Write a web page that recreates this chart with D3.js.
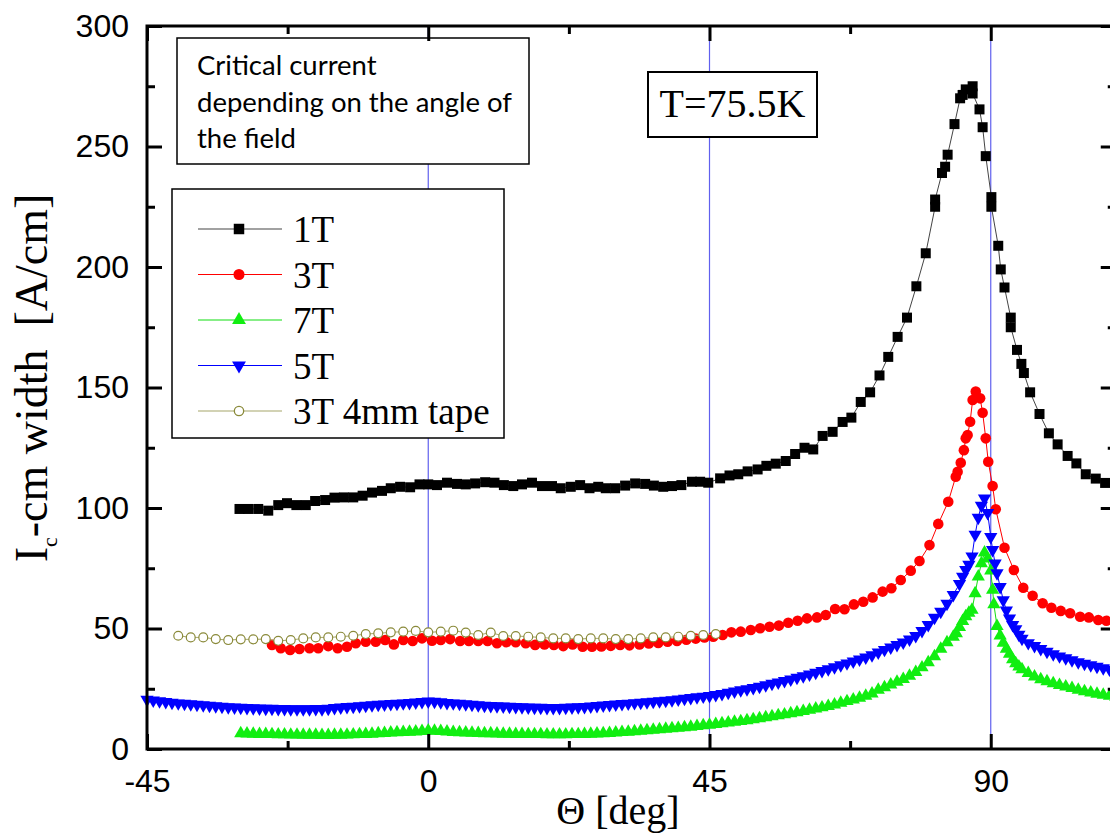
<!DOCTYPE html>
<html><head><meta charset="utf-8">
<script src="https://cdn.jsdelivr.net/npm/d3@7"></script>
<style>body{margin:0;background:#fff;overflow:hidden} svg{display:block}</style>
</head><body>
<svg id="chart" width="1110" height="834"></svg>
<script>
// ---- data ----
const ang1T = [-30.2,-28.8,-27.2,-25.6,-24.0,-22.6,-21.1,-19.6,-18.1,-16.5,
  -15.0,-13.5,-12.0,-10.5,-9.0,-7.4,-6.0,-4.5,-2.9,-1.4,
  0.0,1.4,3.0,4.6,6.0,7.5,9.1,10.6,12.1,13.6,
  15.0,16.6,18.2,19.8,21.2,22.8,24.3,25.8,27.2,28.4,
  29.9,31.5,33.1,34.7,36.1,37.6,39.0,40.5,42.2,43.5,
  44.8,46.7,48.2,49.6,51.1,52.7,54.1,55.6,57.2,58.7,
  60.2,61.6,63.1,64.7,66.3,67.7,69.2,70.7,72.2,73.6,
  75.1,76.6,78.1,79.6,81.1,81.1,82.2,82.7,83.1,84.2,
  85.1,85.5,86.0,87.1,87.1,88.2,88.7,89.2,90.1,90.1,
  91.2,91.6,92.2,93.2,93.2,94.2,94.9,95.3,96.3,97.8,
  99.3,100.7,102.3,103.7,105.2,106.8,108.3];
const ic1T = [99.6,99.6,99.6,98.9,101.2,102.0,101.2,101.2,102.9,103.3,
  104.3,104.4,104.4,105.1,106.4,107.1,108.2,108.8,108.6,109.8,
  109.8,109.5,110.5,110.0,109.8,110.2,110.7,110.5,109.5,109.1,
  109.8,110.5,109.1,109.1,108.2,108.8,109.5,108.2,108.8,108.2,
  108.2,109.3,110.2,110.0,109.3,108.8,109.1,109.5,110.9,110.9,
  110.5,112.3,113.5,114.0,115.2,116.0,117.5,118.4,119.5,122.4,
  125.0,124.3,129.9,131.6,135.7,137.5,144.0,148.0,155.0,162.7,
  171.0,179.0,192.0,205.7,225.0,228.0,239.0,241.6,246.6,259.3,
  270.0,271.4,273.7,275.0,272.0,265.4,258.0,246.0,229.0,225.0,
  208.8,199.0,191.5,179.0,175.0,165.6,159.8,156.0,148.0,139.0,
  131.0,126.4,121.6,118.5,114.0,112.2,110.4];

const ang3T = [-25.0,-23.6,-22.1,-20.6,-19.0,-17.6,-16.0,-14.5,-13.0,-11.6,
  -10.0,-8.4,-6.9,-5.5,-4.0,-2.5,-1.0,0.6,2.0,3.5,
  5.1,6.5,8.0,9.5,11.0,12.5,14.0,15.6,17.1,18.6,
  20.1,21.6,23.1,24.7,26.2,27.7,29.2,30.7,32.2,33.8,
  35.3,36.8,38.3,39.8,41.3,42.8,44.2,45.6,47.1,48.5,
  50.0,51.6,53.1,54.6,56.1,57.6,59.1,60.6,62.2,63.6,
  65.1,66.6,68.1,69.6,71.1,72.7,74.1,75.6,77.2,78.6,
  80.2,81.6,83.2,84.4,84.7,85.2,85.7,86.0,86.3,86.7,
  87.1,87.6,88.3,88.7,89.2,89.6,90.3,90.8,92.2,93.7,
  95.2,96.7,98.3,99.7,101.2,102.7,104.3,105.7,107.2,108.5];
const ic3T = [43.2,41.8,41.1,41.5,41.8,41.8,42.7,41.8,42.4,43.9,
  44.5,44.5,45.2,43.4,45.2,44.8,45.9,44.9,45.2,45.6,
  44.8,44.8,44.8,44.8,43.9,44.3,44.3,43.9,43.2,43.4,
  43.2,42.7,43.4,42.4,42.4,42.5,42.8,43.2,43.0,43.4,
  43.8,44.0,44.5,44.8,45.3,45.8,46.3,46.6,47.3,48.4,
  48.7,49.4,50.1,50.7,51.2,52.4,53.2,54.2,54.6,55.6,
  58.1,58.0,60.0,61.1,62.9,65.3,66.7,70.1,74.0,78.0,
  84.6,93.4,102.6,113.0,115.0,118.8,124.0,128.9,130.3,135.8,
  144.8,148.3,145.5,139.5,128.9,119.2,109.1,99.5,83.5,74.3,
  66.9,63.6,60.5,58.6,57.3,56.3,54.9,54.6,53.5,53.2];

const ang7T = [-30,-29,-28,-27,-26,-25,-24,-23,-22,-21,
  -20,-19,-18,-17,-16,-15,-14,-13,-12,-11,
  -10,-9,-8,-7,-6,-5,-4,-3,-2,-1,
  0,1,2,3,4,5,6,7,8,9,
  10,11,12,13,14,15,16,17,18,19,
  20,21,22,23,24,25,26,27,28,29,
  30,31,32,33,34,35,36,37,38,39,
  40,41,42,43,44,45,46,47,48,49,
  50,51,52,53,54,55,56,57,58,59,
  60,61,62,63,64,65,66,67,68,69,
  70,71,72,73,74,75,76,77,78,79,
  80,81,82,83,84,84.5,85,85.5,86,86.5,
  87,87.5,88,88.5,89,89.5,90,90.3,90.5,91,
  91.5,92,92.5,93,93.5,94,94.5,95,96,97,
  98,99,100,101,102,103,104,105,106,107,
  108,109,110];
const ic7T = [6.5,6.4,6.3,6.2,6.2,6.1,6.0,6.0,5.9,5.9,
  5.8,5.8,5.8,5.7,5.7,5.8,5.8,5.9,6.0,6.1,
  6.2,6.3,6.5,6.6,6.8,6.9,7.0,7.1,7.2,7.4,
  7.6,7.5,7.4,7.2,7.0,6.9,6.8,6.7,6.6,6.5,
  6.5,6.4,6.3,6.3,6.2,6.2,6.1,6.1,6.1,6.0,
  6.0,6.0,6.0,6.1,6.1,6.2,6.3,6.4,6.5,6.6,
  6.8,7.0,7.1,7.3,7.5,7.7,7.9,8.1,8.3,8.5,
  8.7,9.0,9.2,9.5,9.8,10.0,10.3,10.6,10.9,11.2,
  11.5,11.9,12.3,12.7,13.1,13.5,13.9,14.3,14.8,15.2,
  15.7,16.2,16.7,17.2,17.8,18.4,19.1,19.8,20.5,21.2,
  22.0,23.0,24.5,25.6,26.7,27.8,29.0,30.3,31.9,33.8,
  35.9,38.4,41.5,44.2,46.5,48.0,50.5,53.0,55.0,56.5,
  57.7,64.6,71.5,77.0,81.5,79.0,74.0,66.0,60.0,51.0,
  47.0,44.0,41.5,39.5,37.2,35.5,34.2,33.0,31.5,30.0,
  28.9,28.0,27.2,26.5,25.9,25.2,24.5,23.9,23.4,22.9,
  22.4,22.0,21.6];

const ang5T = [-45,-44,-43,-42,-41,-40,-39,-38,-37,-36,
  -35,-34,-33,-32,-31,-30,-29,-28,-27,-26,
  -25,-24,-23,-22,-21,-20,-19,-18,-17,-16,
  -15,-14,-13,-12,-11,-10,-9,-8,-7,-6,
  -5,-4,-3,-2,-1,0,1,2,3,4,
  5,6,7,8,9,10,11,12,13,14,
  15,16,17,18,19,20,21,22,23,24,
  25,26,27,28,29,30,31,32,33,34,
  35,36,37,38,39,40,41,42,43,44,
  45,46,47,48,49,50,51,52,53,54,
  55,56,57,58,59,60,61,62,63,64,
  65,66,67,68,69,70,71,72,73,74,
  75,76,77,78,79,80,81,82,83,84,
  85,85.5,86,86.5,87,87.5,88,88.5,89,89.5,
  90,90.3,90.7,91,91.5,92,92.5,93,93.5,94,
  94.5,95,96,97,98,99,100,101,102,103,
  104,105,106,107,108,109,110];
const ic5T = [20.5,20.2,19.9,19.6,19.3,19.0,18.8,18.6,18.4,18.2,
  18.0,17.8,17.6,17.4,17.3,17.2,17.1,17.0,16.9,16.8,
  16.8,16.7,16.7,16.6,16.6,16.6,16.6,16.7,16.6,16.8,
  17.1,17.3,17.5,17.6,17.8,18.0,18.2,18.4,18.5,18.7,
  18.8,19.0,19.2,19.4,19.6,19.8,19.7,19.5,19.2,19.0,
  18.8,18.6,18.4,18.2,18.0,17.9,17.8,17.7,17.6,17.5,
  17.4,17.3,17.2,17.2,17.1,17.1,17.1,17.2,17.3,17.4,
  17.5,17.7,17.9,18.1,18.3,18.5,18.7,18.9,19.1,19.3,
  19.5,19.7,19.9,20.1,20.3,20.6,20.9,21.2,21.5,21.8,
  22.1,22.5,22.9,23.4,23.9,24.4,24.9,25.4,25.9,26.5,
  27.1,27.7,28.3,28.9,29.6,30.3,31.0,31.7,32.4,33.2,
  34.0,34.8,35.6,36.4,37.2,38.0,39.0,40.1,41.2,42.2,
  43.2,44.3,45.5,47.0,49.0,51.5,54.5,57.0,60.3,64.0,
  68.5,71.5,74.3,76.5,80.0,89.0,96.0,101.0,104.0,98.0,
  88.0,82.6,77.0,73.0,67.3,61.8,57.5,54.2,51.5,49.8,
  47.5,45.8,44.0,42.8,41.6,40.4,39.4,38.5,37.7,36.9,
  36.1,35.4,34.8,34.2,33.6,33.1,32.6];

const angTape = [-40,-38,-36,-34,-32,-30,-28,-26,-24,-22,
  -20,-18,-16,-14,-12,-10,-8,-6,-4,-2,
  0,2,4,6,8,10,12,14,16,18,
  20,22,24,26,28,30,32,34,36,38,
  40,42,44,46];
const icTape = [47.0,46.3,46.3,45.6,45.2,45.5,45.5,45.6,44.9,45.2,
  45.9,46.3,46.3,46.6,47.0,47.7,48.0,48.4,48.7,49.0,
  48.4,48.7,49.1,48.3,47.3,48.3,46.9,46.9,46.6,46.3,
  45.9,45.9,45.6,45.9,45.9,45.6,45.6,45.9,46.3,46.3,
  46.6,47.0,47.3,47.7];

const seriesNames = ["1T","3T","7T","5T","3T 4mm tape"];
const xMajorTicks = [-45,0,45,90];
const xMinorTicks = [-22.5,22.5,67.5];
const yMajorTicks = [0,50,100,150,200,250,300];
const yMinorTicks = [25,75,125,175,225,275];
const refAngles = [0,45,90];
const noteLines = ["Critical current","depending on the angle of","the field"];
const tempLabel = "T=75.5K";

// ---- layout ----
const svg = d3.select("#chart");
const L = 147, T = 26, R = 1115.75, B = 749;
const x = d3.scaleLinear().domain([-45,110]).range([L,R]);
const y = d3.scaleLinear().domain([0,300]).range([B,T]);

const series = [
  {name:seriesNames[0], a:ang1T, v:ic1T, type:d3.symbolSquare, size:100, rot:0, fill:"#000", stroke:"none", line:"#444"},
  {name:seriesNames[1], a:ang3T, v:ic3T, type:d3.symbolCircle, size:88, rot:0, fill:"#ff0000", stroke:"none", line:"#ff0000"},
  {name:seriesNames[2], a:ang7T, v:ic7T, type:d3.symbolTriangle, size:76, rot:0, fill:"#11ee11", stroke:"none", line:"#11dd11"},
  {name:seriesNames[3], a:ang5T, v:ic5T, type:d3.symbolTriangle, size:76, rot:180, fill:"#0000ff", stroke:"none", line:"#0000ff"},
  {name:seriesNames[4], a:angTape, v:icTape, type:d3.symbolCircle, size:62, rot:0, fill:"#fff", stroke:"#8a8a3a", line:"#a6a66a"}
];

// reference vertical lines
svg.append("g").selectAll("line").data(refAngles).join("line")
  .attr("x1",d=>x(d)).attr("x2",d=>x(d)).attr("y1",T).attr("y2",B)
  .attr("stroke","#6060ee").attr("stroke-width",1.2);

// series
const lineGen = d3.line().x(d=>x(d[0])).y(d=>y(d[1]));
series.forEach(s=>{
  const pts = d3.zip(s.a, s.v);
  const g = svg.append("g");
  g.append("path").datum(pts).attr("d",lineGen).attr("fill","none")
    .attr("stroke",s.line).attr("stroke-width",1);
  const sym = d3.symbol().type(s.type).size(s.size);
  g.selectAll("path.m").data(pts).join("path").attr("class","m")
    .attr("d",sym)
    .attr("transform",d=>`translate(${x(d[0])},${y(d[1])}) rotate(${s.rot})`)
    .attr("fill",s.fill).attr("stroke",s.stroke).attr("stroke-width",s.stroke==="none"?0:1.2);
});

// note box
const nb = svg.append("g");
nb.append("rect").attr("x",177).attr("y",38).attr("width",352).attr("height",126)
  .attr("fill","#fff").attr("stroke","#000").attr("stroke-width",1.5);
nb.selectAll("text").data(noteLines).join("text")
  .attr("x",197).attr("y",(d,i)=>75+i*36.5)
  .style("font-family","Lato, 'Open Sans', sans-serif").style("font-size","27.5px").attr("fill","#000")
  .text(d=>d);

// temperature box
const tb = svg.append("g");
tb.append("rect").attr("x",648).attr("y",72).attr("width",169).attr("height",65)
  .attr("fill","#fff").attr("stroke","#000").attr("stroke-width",2);
tb.append("text").attr("x",732.5).attr("y",117).attr("text-anchor","middle")
  .style("font-family","'Liberation Serif', 'Times New Roman', serif").style("font-size","40px")
  .text(tempLabel);

// legend
const lg = svg.append("g");
lg.append("rect").attr("x",172).attr("y",189).attr("width",332).attr("height",249)
  .attr("fill","#fff").attr("stroke","#000").attr("stroke-width",1.5);
series.forEach((s,i)=>{
  const cy = 229 + i*45.5;
  lg.append("line").attr("x1",198).attr("x2",282).attr("y1",cy).attr("y2",cy)
    .attr("stroke",s.line).attr("stroke-width",1.2);
  lg.append("path").attr("d",d3.symbol().type(s.type).size(s.size*1.1)())
    .attr("transform",`translate(239,${cy}) rotate(${s.rot})`)
    .attr("fill",s.fill).attr("stroke",s.stroke).attr("stroke-width",s.stroke==="none"?0:1.3);
  lg.append("text").attr("x",293).attr("y",cy+13)
    .style("font-family","'Liberation Serif', 'Times New Roman', serif").style("font-size","37px")
    .text(s.name);
});

// axes
function styleAxis(g){
  g.select(".domain").remove();
  g.selectAll(".tick line").attr("stroke","#000").attr("stroke-width",3);
  g.selectAll(".tick text").attr("fill","#000")
    .style("font-family","'Liberation Sans', Arial, sans-serif").style("font-size","32px");
}
const plainFmt = d => String(d);
svg.append("g").attr("transform",`translate(${L},0)`)
  .call(d3.axisLeft(y).tickValues(yMajorTicks).tickSize(-15).tickPadding(18).tickFormat(plainFmt)).call(styleAxis);
svg.append("g").attr("transform",`translate(${L},0)`)
  .call(d3.axisLeft(y).tickValues(yMinorTicks).tickSize(-8).tickFormat("")).call(styleAxis);
svg.append("g").attr("transform",`translate(${R},0)`)
  .call(d3.axisRight(y).tickValues(yMajorTicks).tickSize(-15).tickFormat("")).call(styleAxis);
svg.append("g").attr("transform",`translate(${R},0)`)
  .call(d3.axisRight(y).tickValues(yMinorTicks).tickSize(-8).tickFormat("")).call(styleAxis);
svg.append("g").attr("transform",`translate(0,${B})`)
  .call(d3.axisBottom(x).tickValues(xMajorTicks).tickSize(-15).tickPadding(20).tickFormat(plainFmt)).call(styleAxis);
svg.append("g").attr("transform",`translate(0,${B})`)
  .call(d3.axisBottom(x).tickValues(xMinorTicks).tickSize(-8).tickFormat("")).call(styleAxis);
svg.append("g").attr("transform",`translate(0,${T})`)
  .call(d3.axisTop(x).tickValues(xMajorTicks).tickSize(-15).tickFormat("")).call(styleAxis);
svg.append("g").attr("transform",`translate(0,${T})`)
  .call(d3.axisTop(x).tickValues(xMinorTicks).tickSize(-8).tickFormat("")).call(styleAxis);

// frame
svg.append("rect").attr("x",L).attr("y",T).attr("width",R-L).attr("height",B-T)
  .attr("fill","none").attr("stroke","#000").attr("stroke-width",3);

// axis titles
svg.append("text").attr("x",618).attr("y",824).attr("text-anchor","middle")
  .style("font-family","'Liberation Serif', 'Times New Roman', serif").style("font-size","40px")
  .text("Θ [deg]");
const yl = svg.append("text").attr("transform","translate(47,378) rotate(-90)")
  .attr("text-anchor","middle")
  .style("font-family","'Liberation Serif', 'Times New Roman', serif").style("font-size","46px")
  .style("white-space","pre");
yl.append("tspan").text("I");
yl.append("tspan").attr("dy",10).style("font-size","22px").text("c");
yl.append("tspan").attr("dy",-10).text("-cm width  [A/cm]");
</script>
</body></html>
